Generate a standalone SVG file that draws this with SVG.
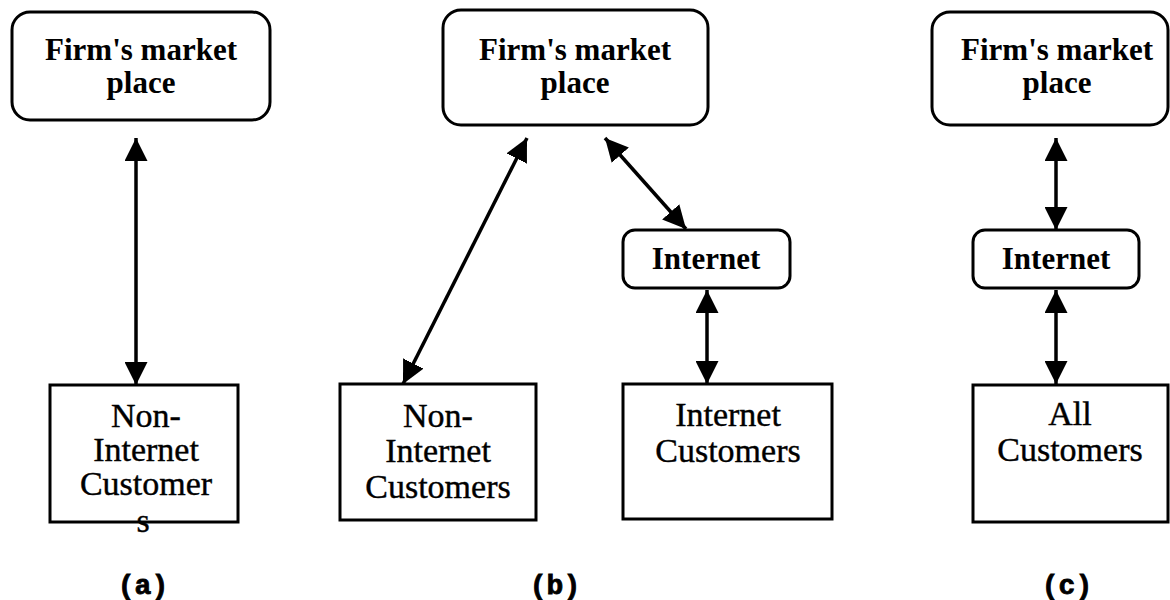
<svg xmlns="http://www.w3.org/2000/svg" width="1170" height="600" viewBox="0 0 1170 600">
  <style>
    .box { fill: #fff; stroke: #000; stroke-width: 3; }
    .lbl { font-family: "Liberation Serif", "Times New Roman", serif; font-size: 34px; fill: #000; text-anchor: middle; stroke: #000; stroke-width: 0.4; }
    .lblb { font-family: "Liberation Serif", "Times New Roman", serif; font-size: 31px; font-weight: bold; fill: #000; text-anchor: middle; }
    .cap { font-family: "Liberation Mono", "Courier New", monospace; font-size: 28px; font-weight: bold; fill: #000; text-anchor: middle; stroke: #000; stroke-width: 0.8; }
    .link { stroke: #000; stroke-width: 3.5; fill: none; marker-start: url(#head); marker-end: url(#head); }
  </style>
  <defs>
    <marker id="head" markerUnits="userSpaceOnUse" markerWidth="23" markerHeight="23" refX="23" refY="11.5" orient="auto-start-reverse">
      <path d="M0,0 L23,11.5 L0,23 z" fill="#000"/>
    </marker>
  </defs>
  <rect width="1170" height="600" fill="#fff"/>

  <!-- double-headed connectors -->
  <g id="connectors">
    <line class="link" x1="136" y1="138" x2="136" y2="385"/>
    <line class="link" x1="527" y1="138" x2="403" y2="384"/>
    <line class="link" x1="605" y1="138" x2="686" y2="229"/>
    <line class="link" x1="707" y1="290" x2="707" y2="384"/>
    <line class="link" x1="1056" y1="138" x2="1056" y2="230"/>
    <line class="link" x1="1056" y1="290" x2="1056" y2="384"/>
  </g>

  <!-- (a) -->
  <g id="a-market">
    <rect class="box" x="12" y="12" width="258" height="108" rx="18"/>
    <text class="lblb" x="141" y="60">Firm's market</text>
    <text class="lblb" x="141" y="93">place</text>
  </g>
  <g id="a-customers">
    <rect class="box" x="50" y="385" width="188" height="137"/>
    <text class="lbl" x="146" y="427">Non-</text>
    <text class="lbl" x="146" y="461">Internet</text>
    <text class="lbl" x="146" y="495">Customer</text>
    <text class="lbl" x="143" y="532">s</text>
  </g>
  <text class="cap" x="143" y="594">(a)</text>

  <!-- (b) -->
  <g id="b-market">
    <rect class="box" x="443" y="10" width="265" height="115" rx="18"/>
    <text class="lblb" x="575" y="60">Firm's market</text>
    <text class="lblb" x="575" y="93">place</text>
  </g>
  <g id="b-internet">
    <rect class="box" x="623" y="230" width="167" height="58" rx="12"/>
    <text class="lblb" x="706" y="269">Internet</text>
  </g>
  <g id="b-non-internet">
    <rect class="box" x="340" y="384" width="196" height="136"/>
    <text class="lbl" x="438" y="427">Non-</text>
    <text class="lbl" x="438" y="462">Internet</text>
    <text class="lbl" x="438" y="498">Customers</text>
  </g>
  <g id="b-internet-customers">
    <rect class="box" x="623" y="384" width="209" height="135"/>
    <text class="lbl" x="728" y="426">Internet</text>
    <text class="lbl" x="728" y="462">Customers</text>
  </g>
  <text class="cap" x="555" y="594">(b)</text>

  <!-- (c) -->
  <g id="c-market">
    <rect class="box" x="932" y="12" width="236" height="113" rx="18"/>
    <text class="lblb" x="1057" y="60">Firm's market</text>
    <text class="lblb" x="1057" y="93">place</text>
  </g>
  <g id="c-internet">
    <rect class="box" x="973" y="230" width="166" height="58" rx="12"/>
    <text class="lblb" x="1056" y="269">Internet</text>
  </g>
  <g id="c-all">
    <rect class="box" x="973" y="385" width="195" height="137"/>
    <text class="lbl" x="1070" y="425">All</text>
    <text class="lbl" x="1070" y="461">Customers</text>
  </g>
  <text class="cap" x="1067" y="594">(c)</text>
</svg>
